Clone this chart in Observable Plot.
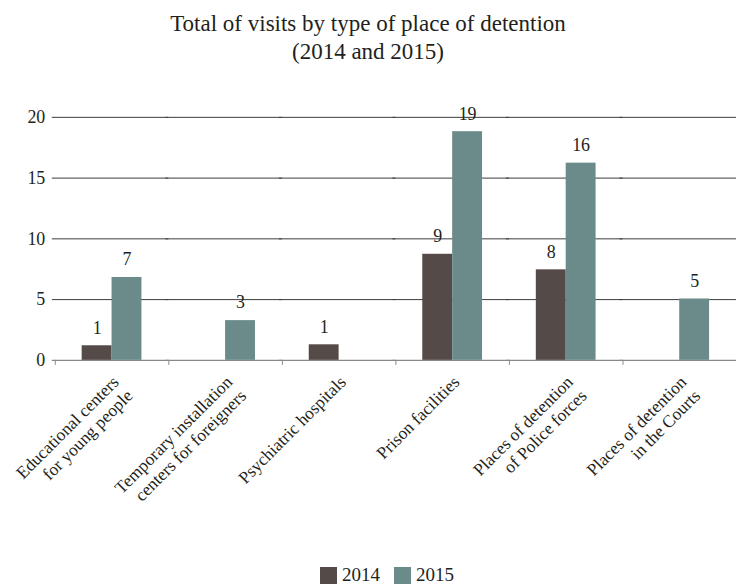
<!DOCTYPE html>
<html>
<head>
<meta charset="utf-8">
<script src="https://cdn.jsdelivr.net/npm/d3@7"></script>
<script src="https://cdn.jsdelivr.net/npm/@observablehq/plot@0.6"></script>
<style>
  html, body { margin: 0; padding: 0; background: #fff; overflow: hidden; }
  body { font-family: "Liberation Serif", serif; color: #231f20; width: 736px; height: 585px; position: relative; }
  #title { font-family: "Liberation Serif", serif; width: 736px; height: 80px; box-sizing: border-box; padding-top: 10px; text-align: center; font-size: 23px; line-height: 28px; }
  #chart svg { display: block; }
  #legend { font-family: "Liberation Serif", serif; position: absolute; left: 0; top: 550px; width: 736px; height: 35px; box-sizing: border-box; padding-left: 38px; padding-top: 15px; display: flex; justify-content: center; align-items: center; font-size: 19px; }
  .item { display: flex; align-items: center; margin: 0 7px; }
  .sw { width: 17px; height: 17px; margin-right: 5px; }
</style>
</head>
<body>
<div id="title">Total of visits by type of place of detention<br>(2014 and 2015)</div>
<div id="chart"></div>
<div id="legend"></div>
<script>
const categories = [
  "Educational centers\nfor young people",
  "Temporary installation\ncenters for foreigners",
  "Psychiatric hospitals",
  "Prison facilities",
  "Places of detention\nof Police forces",
  "Places of detention\nin the Courts"
];
const years = ["2014", "2015"];
const values2014 = [1.2, null, 1.28, 8.73, 7.45, null];
const values2015 = [6.82, 3.27, null, 18.82, 16.23, 5.05];
const labels2014 = ["1", null, "1", "9", "8", null];
const labels2015 = ["7", "3", null, "19", "16", "5"];
const yTicks = [0, 5, 10, 15, 20];
const colors = ["#544a47", "#6a8b8a"];

const rows = [];
categories.forEach((c, i) => {
  if (values2014[i] != null) rows.push({category: c, year: "2014", value: values2014[i], label: labels2014[i]});
  if (values2015[i] != null) rows.push({category: c, year: "2015", value: values2015[i], label: labels2015[i]});
});

const chart = Plot.plot({
  width: 739,
  height: 470,
  marginTop: 37,
  marginBottom: 189,
  marginLeft: 55,
  marginRight: 0,
  style: {fontFamily: "Liberation Serif", fontSize: "17px", color: "#231f20", background: "#fff", overflow: "visible"},
  fx: {domain: categories, padding: 0, axis: null},
  x: {domain: years, paddingInner: 0, paddingOuter: 0.9, axis: null},
  y: {domain: [0, 20], axis: null},
  color: {domain: years, range: colors},
  marks: [
    Plot.ruleY(yTicks.filter(t => t > 0), {stroke: "#3a3a3a", strokeWidth: 1, insetLeft: -3}),
    Plot.ruleY([0], {stroke: "#8a8a8a", strokeWidth: 1.2, insetLeft: -3}),
    Plot.ruleX(categories, {fx: d => d, x: () => "2014", y1: () => 0, y2: () => 0, insetBottom: -5, dx: -42, stroke: "#8a8a8a"}),
    Plot.barY(rows, {fx: "category", x: "year", y: "value", fill: "year"}),
    Plot.text(rows, {fx: "category", x: "year", y: "value", text: "label", dy: -18, fontSize: 18, fill: "#231f20"}),
    Plot.text(categories, {fx: d => d, text: d => d, frameAnchor: "bottom", rotate: -45, textAnchor: "end", lineAnchor: "top", dx: -2, dy: 13, fontSize: 17.5, lineHeight: 1.12, fill: "#231f20"}),
    Plot.axisY({ticks: yTicks, label: null, tickSize: 0, tickPadding: 10, fontSize: 18, fill: "#231f20"})
  ]
});
document.getElementById("chart").appendChild(chart);

const legend = document.getElementById("legend");
years.forEach((y, i) => {
  const item = document.createElement("div");
  item.className = "item";
  const sw = document.createElement("div");
  sw.className = "sw";
  sw.style.background = colors[i];
  const t = document.createElement("span");
  t.textContent = y;
  item.appendChild(sw);
  item.appendChild(t);
  legend.appendChild(item);
});
</script>
</body>
</html>
